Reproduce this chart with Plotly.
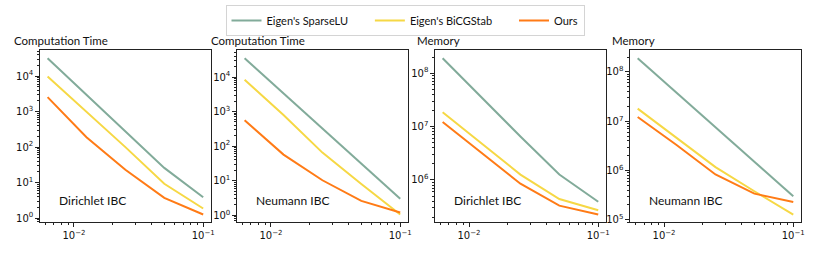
import plotly.graph_objects as go
import numpy as np

# ---- data ----
h = [0.00625, 0.0125, 0.025, 0.05, 0.1]

series_names = ["Eigen's SparseLU", "Eigen's BiCGStab", "Ours"]
colors = ["#82ab9a", "#f6d845", "#ff7b16"]

time_dirichlet_lu = [3.2e4, 3.0e3, 2.8e2, 26, 3.85]
time_dirichlet_bicg = [9.8e3, 1.0e3, 1.0e2, 9.3, 1.86]
time_dirichlet_ours = [2.57e3, 1.9e2, 23, 3.7, 1.26]

time_neumann_lu = [3.5e4, 3.4e3, 3.3e2, 32, 3.0]
time_neumann_bicg = [8.4e3, 8.0e2, 65, 8.0, 1.05]
time_neumann_ours = [5.6e2, 57, 10.3, 2.6, 1.2]

mem_dirichlet_lu = [1.9e8, 3.5e7, 6.5e6, 1.26e6, 3.9e5]
mem_dirichlet_bicg = [1.85e7, 4.9e6, 1.26e6, 4.4e5, 2.7e5]
mem_dirichlet_ours = [1.22e7, 3.2e6, 8.5e5, 3.3e5, 2.25e5]

mem_neumann_lu = [1.9e8, 3.8e7, 7.6e6, 1.5e6, 3.0e5]
mem_neumann_bicg = [1.8e7, 4.6e6, 1.17e6, 3.8e5, 1.28e5]
mem_neumann_ours = [1.22e7, 3.3e6, 8.3e5, 3.4e5, 2.3e5]

panel_titles = ["Computation Time", "Computation Time", "Memory", "Memory"]
panel_labels = ["Dirichlet IBC", "Neumann IBC", "Dirichlet IBC", "Neumann IBC"]
panels = [
    [time_dirichlet_lu, time_dirichlet_bicg, time_dirichlet_ours],
    [time_neumann_lu, time_neumann_bicg, time_neumann_ours],
    [mem_dirichlet_lu, mem_dirichlet_bicg, mem_dirichlet_ours],
    [mem_neumann_lu, mem_neumann_bicg, mem_neumann_ours],
]
y_tick_exps = [[0, 1, 2, 3, 4], [0, 1, 2, 3, 4], [6, 7, 8], [5, 6, 7, 8]]
x_tick_exps = [-2, -1]

# ---- layout ----
W, H = 814, 255
px_left = [40, 238, 437, 633]
px_width = 172
px_top, px_bottom = 51, 225
legend_pad = "\u00a0" * 6  # extra spacing between legend entries

fig = go.Figure()

def minor_vals(lo, hi):
    vals = []
    for e in range(lo, hi + 1):
        for m in range(2, 10):
            vals.append(m * 10.0 ** e)
    return vals

for i, data in enumerate(panels):
    ax = "" if i == 0 else str(i + 1)
    for j, ys in enumerate(data):
        nm = series_names[j] + (legend_pad if j < len(series_names) - 1 else "")
        fig.add_trace(go.Scatter(
            x=h, y=ys, mode="lines", name=nm,
            line=dict(color=colors[j], width=2),
            showlegend=(i == 0),
            xaxis="x" + ax, yaxis="y" + ax,
        ))
    lo_l = np.log10(min(min(d) for d in data))
    hi_l = np.log10(max(max(d) for d in data))
    pad = 0.05 * (hi_l - lo_l)
    xl0, xl1 = np.log10(min(h)), np.log10(max(h))
    xpad = 0.05 * (xl1 - xl0)
    common = dict(
        type="log", showgrid=False, zeroline=False, showline=True,
        linecolor="#222", linewidth=1, mirror=True,
        ticks="outside", ticklen=3.5, tickwidth=0.8, tickcolor="#222",
        tickfont=dict(family="DejaVu Sans", size=10, color="#111"),
    )
    fig.layout["xaxis" + ax] = dict(
        common,
        domain=[px_left[i] / W, (px_left[i] + px_width) / W],
        anchor="y" + ax,
        range=[xl0 - xpad, xl1 + xpad],
        tickmode="array",
        tickvals=[10.0 ** e for e in x_tick_exps],
        ticktext=["10<sup>\u2212%d</sup>" % (-e) for e in x_tick_exps],
        minor=dict(tickmode="array", tickvals=minor_vals(-3, -1), ticks="outside",
                   ticklen=2, tickwidth=0.6, tickcolor="#222", showgrid=False),
    )
    fig.layout["yaxis" + ax] = dict(
        common,
        domain=[1 - px_bottom / H, 1 - px_top / H],
        anchor="x" + ax,
        range=[lo_l - pad, hi_l + pad],
        tickmode="array",
        tickvals=[10.0 ** e for e in y_tick_exps[i]],
        ticktext=["10<sup>%d</sup>" % e for e in y_tick_exps[i]],
        minor=dict(tickmode="array", tickvals=minor_vals(y_tick_exps[i][0] - 1, y_tick_exps[i][-1]),
                   ticks="outside", ticklen=2, tickwidth=0.6, tickcolor="#222", showgrid=False),
    )
    title_off = -28 if i < 2 else -20
    fig.add_annotation(
        text=panel_titles[i], xref="x" + ax + " domain", yref="y" + ax + " domain",
        x=title_off / px_width, y=1 + 10 / (px_bottom - px_top),
        xanchor="left", yanchor="middle", showarrow=False,
        font=dict(family="Lato", size=11.5, color="#111"),
    )
    fig.add_annotation(
        text=panel_labels[i], xref="x" + ax + " domain", yref="y" + ax + " domain",
        x=17 / px_width, y=22 / (px_bottom - px_top),
        xanchor="left", yanchor="middle", showarrow=False,
        font=dict(family="Lato", size=12, color="#111"),
    )

fig.update_layout(
    width=W, height=H,
    margin=dict(l=0, r=0, t=0, b=0),
    paper_bgcolor="white", plot_bgcolor="white",
    legend=dict(
        orientation="h", x=0.5, xanchor="center", y=1 - 5 / H, yanchor="top",
        bordercolor="#d4d4d4", borderwidth=1, bgcolor="white",
        font=dict(family="Lato", size=11, color="#111"),
    ),
)

fig.write_html("out.html", config={"displayModeBar": False},
               post_script="document.body.style.margin='0px';")
